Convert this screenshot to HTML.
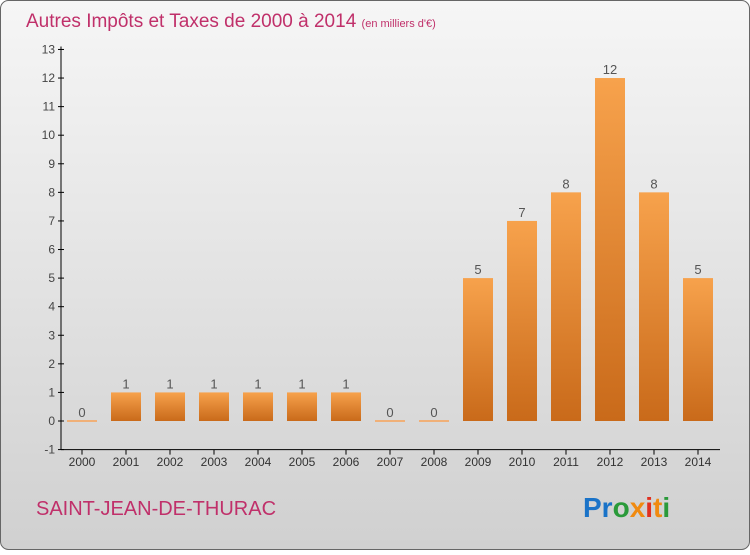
<!DOCTYPE html>
<html><head><meta charset="utf-8"><style>
body{margin:0;width:750px;height:550px;overflow:hidden;font-family:"Liberation Sans",sans-serif}
</style></head><body>
<svg id="c" width="750" height="550" xmlns="http://www.w3.org/2000/svg">
<defs>
<linearGradient id="bg" x1="0" y1="0" x2="0" y2="1"><stop offset="0" stop-color="#f6f6f6"/><stop offset="1" stop-color="#d0d0d0"/></linearGradient>
<linearGradient id="bar" x1="0" y1="0" x2="0" y2="1"><stop offset="0" stop-color="#f7a24c"/><stop offset="1" stop-color="#c96a1a"/></linearGradient>
</defs>
<rect x="0.5" y="0.5" width="749" height="549" rx="8" fill="url(#bg)" stroke="#666"/>
<text x="26" y="27" font-size="19" fill="#c0306a">Autres Impôts et Taxes de 2000 à 2014 <tspan font-size="11">(en milliers d'€)</tspan></text>
<text x="36" y="515" font-size="20" fill="#c0306a">SAINT-JEAN-DE-THURAC</text>
<text x="583" y="517" font-size="28" font-weight="bold"><tspan fill="#1a73c8">Pr</tspan><tspan fill="#2a9a3a">o</tspan><tspan fill="#f08a10">x</tspan><tspan fill="#e03020">i</tspan><tspan fill="#f08a10">t</tspan><tspan fill="#2a9a3a">i</tspan></text>
<g id="plot"></g>
</svg>
<script>
const years=["2000","2001","2002","2003","2004","2005","2006","2007","2008","2009","2010","2011","2012","2013","2014"];
const values=[0,1,1,1,1,1,1,0,0,5,7,8,12,8,5];
const yTicks=[-1,0,1,2,3,4,5,6,7,8,9,10,11,12,13];
const NS="http://www.w3.org/2000/svg";
const g=document.getElementById('plot');
const y=v=>421-v*28.58;
const x=i=>82+i*44;
function mk(t,a,txt){const e=document.createElementNS(NS,t);for(const k in a)e.setAttribute(k,a[k]);if(txt!==undefined)e.textContent=txt;g.appendChild(e);return e;}
let ax=mk('line',{x1:61,y1:y(13)-3,x2:61,y2:y(-1),stroke:'#000'});


let xa=mk('line',{x1:61,y1:y(-1),x2:720,y2:y(-1),stroke:'#000'});


yTicks.forEach(v=>{
 let t=mk('line',{x1:58,y1:y(v),x2:64,y2:y(v),stroke:'#000'});
 
 
 let l=mk('text',{x:55,y:y(v)+4,'font-size':12,fill:'#444','text-anchor':'end'},String(v));
 
 
});
years.forEach((yr,i)=>{
 let t=mk('line',{x1:x(i),y1:y(-1),x2:x(i),y2:y(-1)+5,stroke:'#000'});
 
 
 let l=mk('text',{x:x(i),y:466,'font-size':12,fill:'#333','text-anchor':'middle'},yr);
 
 
 const v=values[i];
 const h=Math.max(y(0)-y(v),2);
 let b=mk('rect',{x:x(i)-15,y:y(0)-h+(v===0?1:0),width:30,height:h,fill:v===0?'#f0b078':'url(#bar)'});
 
 
 let vl=mk('text',{x:x(i),y:y(v)-4,'font-size':13,fill:'#555','text-anchor':'middle'},String(v));
 
 
});
</script>
</body></html>
